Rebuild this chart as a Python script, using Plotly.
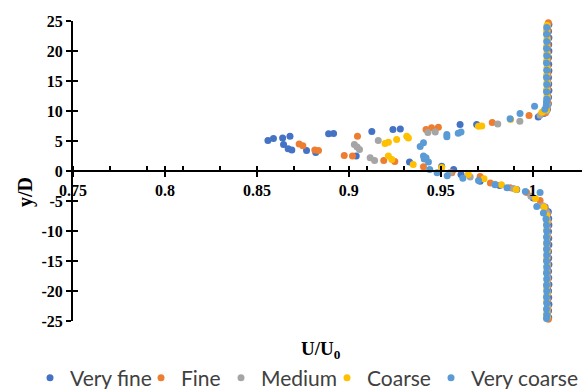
import plotly.graph_objects as go

# Velocity profiles U/U0 against y/D for five mesh resolutions
series_names = ["Very fine", "Fine", "Medium", "Coarse", "Very coarse"]
series_colors = ["#4472C4", "#ED7D31", "#A5A5A5", "#FFC000", "#5B9BD5"]

vf_u = [1.0088, 1.0086, 1.0088, 1.0087, 1.0088, 1.0086, 1.0087, 1.0088, 1.0086, 1.0087, 1.0088, 1.0086, 1.0085, 1.0080, 1.0060,
        1.003, 0.9695, 0.9605, 0.928, 0.924, 0.9125, 0.8917, 0.889, 0.868, 0.864, 0.859, 0.856,
        0.8645, 0.867, 0.869, 0.877, 0.882, 0.904, 0.933, 0.9505, 0.957,
        0.961, 0.9714, 0.982, 0.9913, 1.0003, 1.0067,
        1.0085, 1.0087, 1.0088, 1.0086, 1.0087, 1.0088, 1.0086, 1.0087, 1.0088, 1.0086, 1.0087, 1.0088, 1.0086, 1.0087, 1.0088, 1.0086, 1.0087]
vf_y = [24.4, 23.3, 22.2, 21.1, 20.0, 18.9, 17.8, 16.7, 15.6, 14.5, 13.4, 12.3, 11.2, 10.3, 9.6,
        9.0, 7.75, 7.75, 7.0, 6.9, 6.6, 6.25, 6.2, 5.8, 5.5, 5.4, 5.1,
        4.4, 3.7, 3.5, 3.4, 3.1, 2.5, 1.5, 0.8, 0.25,
        -0.6, -1.7, -2.4, -3.1, -4.5, -6.0,
        -6.8, -7.9, -9.0, -10.1, -11.2, -12.3, -13.4, -14.5, -15.6, -16.7, -17.8, -18.9, -20.0, -21.1, -22.2, -23.3, -24.4]

f_u = [1.0085, 1.0082, 1.0080, 1.0082, 1.0080, 1.0081, 1.0080, 1.0082, 1.0080, 1.0081, 1.0080, 1.0082, 1.0078, 1.0070,
       0.998, 0.978, 0.9487, 0.945, 0.942, 0.9047, 0.873, 0.875,
       0.8815, 0.8835, 0.8975, 0.902, 0.919, 0.925, 0.9406,
       0.956, 0.9714, 0.977, 0.9877, 0.9967, 1.004, 1.0068,
       1.0080, 1.0082, 1.0080, 1.0081, 1.0080, 1.0082, 1.0080, 1.0081, 1.0080, 1.0082, 1.0080, 1.0081, 1.0080, 1.0082, 1.0080, 1.0081, 1.0080, 1.0085]
f_y = [24.7, 23.5, 22.3, 21.0, 19.8, 18.6, 17.4, 16.2, 15.0, 13.8, 12.6, 11.4, 10.4, 9.7,
       9.25, 8.1, 7.3, 7.2, 6.9, 5.8, 4.5, 4.2,
       3.5, 3.4, 2.6, 2.5, 1.75, 1.6, 0.7,
       -0.3, -0.9, -2.0, -2.8, -3.6, -4.9, -6.3,
       -7.2, -8.4, -9.6, -10.8, -12.0, -13.2, -14.4, -15.6, -16.8, -18.0, -19.2, -20.4, -21.6, -22.8, -23.6, -24.2, -24.5, -24.7]

m_u = [1.0080, 1.0078, 1.0080, 1.0079, 1.0080, 1.0078, 1.0080, 1.0079, 1.0080, 1.0078, 1.0080, 1.0079, 1.0076, 1.004,
       0.993, 0.981, 0.947, 0.943, 0.916, 0.903, 0.9045, 0.9058, 0.9116, 0.914,
       0.955, 0.966, 0.9795, 0.9895, 0.999, 1.0055,
       1.0078, 1.0080, 1.0079, 1.0080, 1.0078, 1.0080, 1.0079, 1.0080, 1.0078, 1.0080, 1.0079, 1.0080, 1.0078, 1.0080, 1.0079, 1.0080, 1.0078]
m_y = [24.2, 23.0, 21.8, 20.6, 19.4, 18.2, 17.0, 15.8, 14.6, 13.4, 12.2, 11.0, 10.0, 9.3,
       8.3, 7.85, 6.5, 6.4, 5.1, 4.4, 4.0, 3.6, 2.2, 1.75,
       -0.3, -1.0, -2.2, -2.9, -4.2, -5.8,
       -6.9, -8.1, -9.3, -10.5, -11.7, -12.9, -14.1, -15.3, -16.5, -17.7, -18.9, -20.1, -21.3, -22.5, -23.4, -24.0, -24.5]

c_u = [1.0078, 1.0076, 1.0078, 1.0076, 1.0078, 1.0076, 1.0078, 1.0076, 1.0078, 1.0076, 1.0078, 1.0076, 1.0074, 1.005,
       0.988, 0.9723, 0.9705, 0.9324, 0.9315, 0.926, 0.9215, 0.9197,
       0.9215, 0.9234, 0.935, 0.9505,
       0.965, 0.9735, 0.983, 0.991, 1.0015, 1.0062,
       1.0076, 1.0078, 1.0076, 1.0078, 1.0076, 1.0078, 1.0076, 1.0078, 1.0076, 1.0078, 1.0076, 1.0078, 1.0076, 1.0078, 1.0076, 1.0078]
c_y = [24.3, 23.4, 22.0, 20.8, 19.6, 18.4, 17.2, 16.0, 14.8, 13.6, 12.4, 11.2, 10.2, 9.8,
       8.6, 7.5, 7.45, 5.5, 5.8, 5.25, 4.8, 4.6,
       2.5, 1.9, 1.1, 0.6,
       -0.6, -1.3, -2.3, -3.1, -4.6, -6.0,
       -7.4, -8.6, -9.8, -11.0, -12.2, -13.4, -14.6, -15.8, -17.0, -18.2, -19.4, -20.6, -21.8, -23.0, -23.8, -24.4]

vc_u = [1.0076, 1.0075, 1.0076, 1.0075, 1.0076, 1.0075, 1.0076, 1.0075, 1.0076, 1.0075, 1.0076, 1.0075, 1.0074, 1.0066,
        1.001, 0.9931, 0.9877, 0.961, 0.9595, 0.9533, 0.9533, 0.9406, 0.9388,
        0.9406, 0.941, 0.942, 0.9433, 0.944, 0.948,
        0.9535, 0.962, 0.9705, 0.9795, 0.986, 0.996, 1.004, 1.0022, 1.0058,
        1.0072, 1.0075, 1.0076, 1.0075, 1.0076, 1.0075, 1.0076, 1.0075, 1.0076, 1.0075, 1.0076, 1.0075, 1.0076, 1.0075, 1.0076, 1.0075, 1.0076, 1.0075]
vc_y = [23.9, 22.8, 21.6, 20.4, 19.2, 18.0, 16.8, 15.6, 14.4, 13.2, 12.0, 11.5, 10.9, 10.3,
        10.8, 9.6, 8.7, 6.5, 6.3, 6.1, 5.7, 4.7, 4.1,
        2.5, 2.0, 2.2, 1.5, 0.25, -0.3,
        -0.8, -1.2, -1.6, -2.3, -2.8, -3.4, -3.6, -5.9, -7.0,
        -8.0, -9.0, -10.0, -11.0, -12.0, -13.0, -14.0, -15.0, -16.0, -17.0, -18.0, -19.0, -20.0, -21.0, -22.0, -23.0, -24.0, -24.6]

x_ticks = [0.75, 0.8, 0.85, 0.9, 0.95, 1.0]
x_tick_labels = ["0.75", "0.8", "0.85", "0.9", "0.95", "1"]
y_ticks = [-25, -20, -15, -10, -5, 0, 5, 10, 15, 20, 25]
y_tick_labels = ["-25", "-20", "-15", "-10", "-5", "0", "5", "10", "15", "20", "25"]

W, H = 582, 389
serif_bold = dict(family="Liberation Serif", size=16, color="black", weight="bold")
legend_font = dict(family="Lato", size=21, color="#404040")
# left edge (px) of each legend entry along the bottom row
legend_left_px = [30, 141, 221, 327, 431]

fig = go.Figure()
legend_ids = ["legend", "legend2", "legend3", "legend4", "legend5"]
for name, color, u, y, lg in zip(series_names, series_colors,
                                 [vf_u, f_u, m_u, c_u, vc_u],
                                 [vf_y, f_y, m_y, c_y, vc_y], legend_ids):
    fig.add_trace(go.Scatter(x=u, y=y, mode="markers", name=name, legend=lg,
                             marker=dict(color=color, size=7, line=dict(width=0)),
                             cliponaxis=False))

# empty trace that carries the overlay axes used for the inner halves of the ticks
fig.add_trace(go.Scatter(x=[], y=[], xaxis="x2", yaxis="y2", showlegend=False, hoverinfo="skip"))

x_range = [0.75, 1.0268]
y_range = [-25, 25]

legends = {}
for lg, left in zip(legend_ids, legend_left_px):
    legends[lg] = dict(orientation="h", xref="container", yref="container", x=left / W, xanchor="left",
                       y=1 - 378 / H, yanchor="middle", font=legend_font,
                       itemwidth=30, bgcolor="rgba(0,0,0,0)", borderwidth=0)

fig.update_layout(
    width=W, height=H,
    margin=dict(l=73, r=0, t=21, b=68),
    paper_bgcolor="white", plot_bgcolor="white",
    showlegend=True,
    xaxis=dict(range=x_range, anchor="free", position=0.5, showgrid=False, zeroline=False,
               showline=True, linecolor="black", linewidth=2,
               tickvals=x_ticks, ticktext=x_tick_labels, ticks="outside", ticklen=5,
               tickwidth=2, tickcolor="black", tickfont=serif_bold,
               minor=dict(ticks="inside", ticklen=4, tickwidth=1.5, tickcolor="black",
                          tick0=0.75, dtick=0.02, showgrid=False)),
    yaxis=dict(range=y_range, anchor="x", showgrid=False, zeroline=False,
               showline=True, linecolor="black", linewidth=2,
               tickvals=y_ticks, ticktext=y_tick_labels, ticks="outside", ticklen=5,
               tickwidth=2, tickcolor="black", tickfont=serif_bold),
    xaxis2=dict(range=x_range, overlaying="x", anchor="free", position=0.5, showgrid=False,
                zeroline=False, showline=False, tickvals=x_ticks, ticks="inside",
                ticklen=5, tickwidth=2, tickcolor="black", showticklabels=False),
    yaxis2=dict(range=y_range, overlaying="y", anchor="x", side="left", showgrid=False,
                zeroline=False, showline=False, tickvals=y_ticks, ticks="inside",
                ticklen=5, tickwidth=2, tickcolor="black", showticklabels=False),
    annotations=[
        dict(text="y/D", xref="paper", yref="paper", x=(25 - 73) / 509, y=(321 - 192) / 300,
             xanchor="center", yanchor="middle", showarrow=False, textangle=-90,
             font=dict(family="Liberation Serif", size=20, color="black", weight="bold")),
        dict(text="U/U<sub>0</sub>", xref="paper", yref="paper", x=(321 - 73) / 509, y=(321 - 350) / 300,
             xanchor="center", yanchor="middle", showarrow=False,
             font=dict(family="Liberation Serif", size=19, color="black", weight="bold")),
    ],
    **legends,
)

fig.write_html("out.html")
